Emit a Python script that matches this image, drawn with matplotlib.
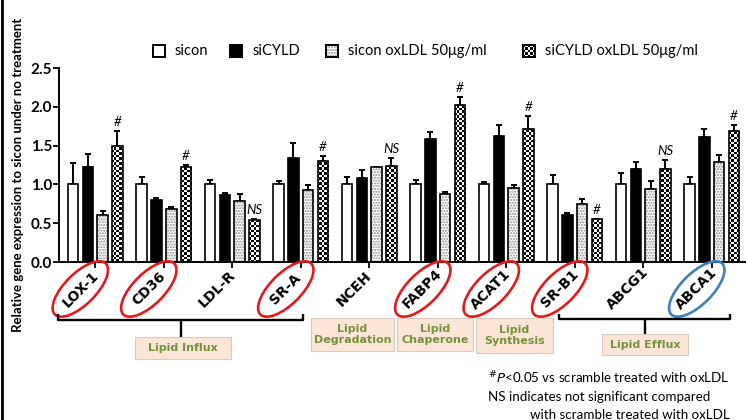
import numpy as np
import matplotlib
matplotlib.use('Agg')
import matplotlib.pyplot as plt
from matplotlib.patches import Ellipse, Rectangle
from matplotlib.lines import Line2D
from matplotlib.transforms import Affine2D, IdentityTransform

# Data
genes = ['LOX-1', 'CD36', 'LDL-R', 'SR-A', 'NCEH', 'FABP4', 'ACAT1', 'SR-B1', 'ABCG1', 'ABCA1']
series = ['sicon', 'siCYLD', 'sicon oxLDL 50μg/ml', 'siCYLD oxLDL 50μg/ml']
sicon = [1.00, 1.00, 1.00, 1.00, 1.00, 1.00, 1.00, 1.00, 1.00, 1.00]
sicon_err = [0.28, 0.09, 0.06, 0.04, 0.09, 0.06, 0.03, 0.12, 0.15, 0.10]
sicyld = [1.23, 0.80, 0.86, 1.34, 1.08, 1.58, 1.63, 0.61, 1.20, 1.61]
sicyld_err = [0.16, 0.03, 0.03, 0.19, 0.11, 0.09, 0.14, 0.02, 0.09, 0.11]
sicon_ox = [0.61, 0.68, 0.78, 0.93, 1.22, 0.88, 0.95, 0.75, 0.94, 1.29]
sicon_ox_err = [0.05, 0.03, 0.10, 0.06, 0.01, 0.02, 0.04, 0.06, 0.11, 0.09]
sicyld_ox = [1.49, 1.22, 0.54, 1.30, 1.24, 2.02, 1.72, 0.55, 1.20, 1.69]
sicyld_ox_err = [0.20, 0.03, 0.02, 0.06, 0.10, 0.11, 0.16, 0.01, 0.11, 0.07]
marks = ['#', '#', 'NS', '#', 'NS', '#', '#', '#', 'NS', '#']
circle_color = {'LOX-1': '#e31a1c', 'CD36': '#e31a1c', 'SR-A': '#e31a1c', 'FABP4': '#e31a1c',
                'ACAT1': '#e31a1c', 'SR-B1': '#e31a1c', 'ABCA1': '#3f7fbf'}

W, H = 746, 420
fig = plt.figure(figsize=(W / 100, H / 100), dpi=100)
ax = fig.add_axes([59 / W, 158 / H, 687 / W, 194 / H])
img = Affine2D().scale(1, -1).translate(0, H)  # image pixel coords (y down)

ax.set_xlim(-0.53, 9.5)
ax.set_ylim(0, 2.5)

# small black/white checkerboard used for the siCYLD oxLDL bars
cell = 2.5
nx, ny = int(687 / cell) + 1, int(194 / cell) + 1
checker = (np.add.outer(np.arange(ny), np.arange(nx)) % 2).astype(float)

# bar styles: face, hatch, hatch colour
styles = [('white', None, 'black'), ('black', None, 'black'),
          ('white', '......', '#8c8c8c'), ('white', None, 'black')]
values = [sicon, sicyld, sicon_ox, sicyld_ox]
errors = [sicon_err, sicyld_err, sicon_ox_err, sicyld_ox_err]

x = np.arange(len(genes))
step, width = 0.216, 0.155
for k in range(4):
    pos = x + (k - 1.5) * step
    fc, hatch, hc = styles[k]
    ax.errorbar(pos, values[k], yerr=[np.zeros(len(x)), errors[k]], fmt='none',
                ecolor='black', elinewidth=1.4, capsize=2.5, capthick=1.4, zorder=1)
    bars = ax.bar(pos, values[k], width, color=fc, edgecolor=hc, hatch=hatch,
                  linewidth=0, zorder=2)
    if k == 3:
        for b in bars:
            im = ax.imshow(checker, cmap='gray', vmin=0, vmax=1, interpolation='nearest',
                           extent=(-0.53, 9.5, 0, 2.5), aspect='auto', zorder=2.5)
            im.set_clip_path(b)
    ax.bar(pos, values[k], width, fill=False, edgecolor='black', linewidth=1.2, zorder=3)

# significance marks above the siCYLD oxLDL bars
for i, m in enumerate(marks):
    top = sicyld_ox[i] + sicyld_ox_err[i]
    ax.annotate(m, xy=(x[i] + 1.5 * step, top), xytext=(0, 3), textcoords='offset pixels',
                ha='center', va='bottom', fontsize=9.5, fontstyle='italic', family='Lato')

ax.set_xlim(-0.53, 9.5)
ax.set_ylim(0, 2.5)
ax.set_yticks([0, 0.5, 1.0, 1.5, 2.0, 2.5])
ax.set_yticklabels(['0.0', '0.5', '1.0', '1.5', '2.0', '2.5'], fontsize=11,
                   fontweight='bold', family='Lato')
ax.set_xticks(x)
ax.set_xticklabels([])
ax.tick_params(axis='both', length=4, width=1.3, direction='out', pad=1)
for s in ['top', 'right']:
    ax.spines[s].set_visible(False)
for s in ['left', 'bottom']:
    ax.spines[s].set_linewidth(1.4)

# gene labels with ellipses
for i, g in enumerate(genes):
    ax.annotate(g, xy=(x[i], 0), xytext=(-15, -27), textcoords='offset pixels',
                rotation=45, ha='center', va='center', rotation_mode='anchor',
                fontsize=10, fontweight='bold', family='DejaVu Sans')
    if g in circle_color:
        cx, cy = ax.transData.transform((x[i], 0))
        e = Ellipse((cx - 15, cy - 27), 72, 31, angle=45, fill=False,
                    edgecolor=circle_color[g], linewidth=1.9, transform=IdentityTransform())
        fig.add_artist(e)

# y label
fig.text(18 / W, 1 - 175 / H, 'Relative gene expression to sicon under no treatment',
         rotation=90, ha='center', va='center', fontsize=9.5, fontweight='bold', family='Lato')

# legend
leg_box_x = [153, 230, 326, 523]
leg_txt_x = [175, 253, 348, 545]
for k in range(4):
    fc, hatch, hc = styles[k]
    if k == 3:
        lax = fig.add_axes([leg_box_x[k] / W, 1 - 57 / H, 12 / W, 12 / H])
        lax.imshow(checker[:5, :5], cmap='gray', vmin=0, vmax=1, interpolation='nearest',
                   aspect='auto')
        lax.set_xticks([])
        lax.set_yticks([])
        for s in lax.spines.values():
            s.set_linewidth(1.4)
    else:
        fig.add_artist(Rectangle((leg_box_x[k], 45), 12, 12, facecolor=fc, edgecolor=hc,
                                 hatch=hatch, linewidth=0, transform=img))
        fig.add_artist(Rectangle((leg_box_x[k], 45), 12, 12, fill=False, edgecolor='black',
                                 linewidth=1.4, transform=img))
    fig.text(leg_txt_x[k], 51, series[k], transform=img, ha='left', va='center',
             fontsize=10.5, family=['Lato', 'DejaVu Sans'])

# brackets
bk = dict(color='black', linewidth=1.7, transform=img, solid_capstyle='butt')
fig.add_artist(Line2D([58, 58, 303, 303], [314, 320, 320, 314], **bk))
fig.add_artist(Line2D([181, 181], [320, 337], **bk))
fig.add_artist(Line2D([559, 559, 730, 730], [314, 319, 319, 314], **bk))
fig.add_artist(Line2D([645, 645], [319, 334], **bk))

# category boxes
boxes = [('Lipid Influx', 135, 337, 96, 22), ('Lipid\nDegradation', 311, 318, 83, 33),
         ('Lipid\nChaperone', 397, 318, 76, 33), ('Lipid\nSynthesis', 476, 318, 77, 35),
         ('Lipid Efflux', 602, 334, 86, 21)]
for txt, bx, by, bw, bh in boxes:
    fig.add_artist(Rectangle((bx, by), bw, bh, facecolor='#fbe5d6', edgecolor='#d8cabf',
                             linewidth=0.8, transform=img))
    fig.text(bx + bw / 2, by + bh / 2, txt, transform=img, ha='center', va='center',
             fontsize=8, fontweight='bold', color='#76923c', family='DejaVu Sans',
             linespacing=1.1)

# footnote
fig.text(488, 378, r'$^{\#}$$\it{P}$<0.05 vs scramble treated with oxLDL', transform=img,
         ha='left', va='center', fontsize=9.6, family='Lato')
fig.text(488, 397, 'NS indicates not significant compared', transform=img,
         ha='left', va='center', fontsize=9.6, family='Lato')
fig.text(530, 415, 'with scramble treated with oxLDL', transform=img,
         ha='left', va='center', fontsize=9.6, family='Lato')

# left frame edge
fig.add_artist(Line2D([2, 2], [0, H], color='black', linewidth=2, transform=img))

fig.savefig('out.png', dpi=100)
